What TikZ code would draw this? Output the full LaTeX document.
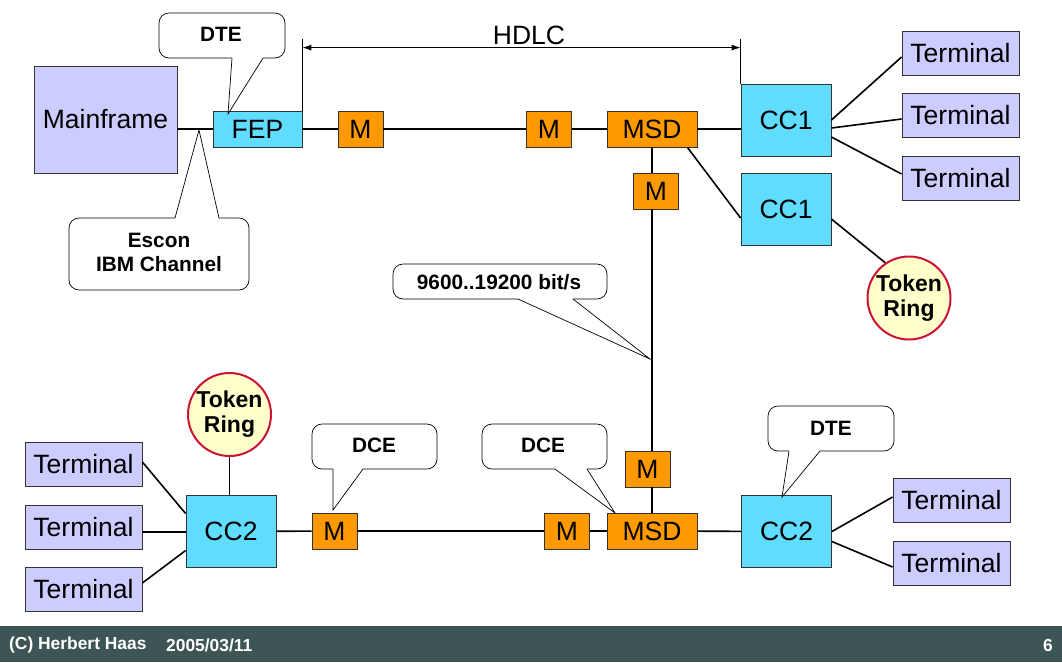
\documentclass[tikz,border=0pt]{standalone}
\usepackage{fontspec}
\setmainfont{Liberation Sans}
\usetikzlibrary{calc,arrows.meta}

\definecolor{lav}{HTML}{CCCCFF}
\definecolor{ccblue}{HTML}{60DCFF}
\definecolor{modemorange}{HTML}{FF9900}
\definecolor{ringfill}{HTML}{FFFFCC}
\definecolor{ringred}{HTML}{CC1236}
\definecolor{footerbar}{HTML}{3D5555}
\definecolor{edge}{HTML}{333333}

% speech bubble: rounded box #1-#2, wedge base #3-#4, tip #5, #6 = shift into the box
\newcommand\bubble[6]{%
  \draw[bubbleline, fill=white, rounded corners=10pt] #1 rectangle #2;
  \fill[white] ($#3+(0,#6)$) -- #3 -- #5 -- #4 -- ($#4+(0,#6)$) -- cycle;
  \draw[bubbleline] #3 -- #5 -- #4;
}

\begin{document}
\begin{tikzpicture}[x=1pt, y=-1pt,
  box/.style={draw=edge, line width=0.8pt, inner sep=0pt,
              font=\fontsize{26.5}{30}\selectfont},
  term/.style={box, fill=lav, minimum width=117pt, minimum height=44pt},
  cc/.style={box, fill=ccblue, minimum width=90pt, minimum height=72pt},
  modem/.style={box, fill=modemorange, minimum width=45pt, minimum height=36pt},
  msd/.style={box, fill=modemorange, minimum width=90pt, minimum height=36pt},
  ring/.style={circle, draw=ringred, line width=2pt, fill=ringfill,
               minimum size=83pt, inner sep=0pt, align=center,
               font=\bfseries\fontsize{23}{25}\selectfont},
  link/.style={line width=1.6pt},
  bubbleline/.style={line width=0.7pt},
  bubbletext/.style={font=\bfseries\fontsize{20.8}{24}\selectfont, align=center, inner sep=0pt},
  thinline/.style={line width=0.9pt}
]
\useasboundingbox (0,0) rectangle (1062,662);
\fill[white] (0,0) rectangle (1062,662);

% ---------- upper network ----------
\node[box, fill=lav, minimum width=143pt, minimum height=107pt] (mf) at (105.5,119.5) {Mainframe};
\node[box, fill=ccblue, minimum width=89pt, minimum height=36pt] (fep) at (257.5,129) {FEP};
\node[modem] (m1) at (360.5,129) {M};
\node[modem] (m2) at (549,129) {M};
\node[msd] (msd1) at (652,129) {MSD};
\node[cc] (cc1a) at (786,120) {CC1};
\node[cc] (cc1b) at (786,209.5) {CC1};
\node[modem] (mv) at (656,191) {M};
\node[term] (t1) at (960.5,53) {Terminal};
\node[term] (t2) at (960.5,115.5) {Terminal};
\node[term] (t3) at (960.5,178) {Terminal};
\node[ring] (ring1) at (909,298) {Token\\Ring};

\draw[link] (mf.east |- fep.west) -- (fep.west);
\draw[link] (fep) -- (m1);
\draw[link] (m1) -- (m2);
\draw[link] (m2) -- (msd1);
\draw[link] (msd1.east) -- (msd1.east -| cc1a.west);
\draw[link] (cc1a.east) -- ([yshift=-4pt]t1.west);
\draw[link] ([yshift=-8pt]cc1a.east) -- ([yshift=-3.5pt]t2.west);
\draw[link] ([yshift=-17pt]cc1a.east) -- ([yshift=4pt]t3.west);
\draw[link] ([xshift=-10pt]msd1.south east) -- ([yshift=-8.5pt]cc1b.west);
\draw[link] ([yshift=-9.5pt]cc1b.east) -- (ring1.124);

% ---------- lower network ----------
\node[cc] (cc2l) at (231,531.5) {CC2};
\node[modem] (mb1) at (334.5,531) {M};
\node[modem] (mb2) at (567,531) {M};
\node[msd] (msd2) at (652,531) {MSD};
\node[modem] (mb3) at (647.5,469) {M};
\node[cc] (cc2r) at (786.5,531.5) {CC2};
\node[term] (tl1) at (83.5,464.5) {Terminal};
\node[term] (tl2) at (83.5,527) {Terminal};
\node[term] (tl3) at (83.5,589.5) {Terminal};
\node[term] (tr1) at (951.5,500) {Terminal};
\node[term] (tr2) at (951.5,563) {Terminal};
\node[ring] (ring2) at (229.5,414.5) {Token\\Ring};

\draw[link] (cc2l) -- (mb1);
\draw[link] (mb1) -- (mb2);
\draw[link] (mb2) -- (msd2);
\draw[link] (msd2) -- (cc2r);
\draw[link] (ring2.south) -- (ring2.south |- cc2l.north);
\draw[link] ([yshift=2.5pt]tl1.east) -- ([yshift=18pt]cc2l.west);
\draw[link] ([yshift=-0.5pt]cc2l.west) -- ([yshift=-0.5pt]cc2l.west -| tl2.east);
\draw[link] ([yshift=6.5pt]tl3.east) -- ([yshift=-19pt]cc2l.west);
\draw[link] (cc2r.east) -- ([yshift=3pt]tr1.west);
\draw[link] ([yshift=-10pt]cc2r.east) -- ([yshift=-4pt]tr2.west);

% vertical trunk between the two MSDs
\draw[link] (msd1.south) -- (mv.north -| msd1.south);
\draw[link] (mv.south -| msd1.south) -- (mb3.north -| msd1.south);
\draw[link] (mb3.south -| msd1.south) -- (msd2.north);

% ---------- HDLC span ----------
\path (fep.north east) ++(0,-72) coordinate (hL);
\path (cc1a.north west) ++(0,-45) coordinate (hR);
\draw[thinline] (fep.north east) -- (hL);
\draw[thinline] (cc1a.north west) -- (hR);
\draw[thinline, {Latex[length=9pt,width=6pt]}-{Latex[length=9pt,width=6pt]}]
  ([yshift=-9pt]hL) -- ([yshift=-9pt]hR);
\node[font=\fontsize{26.5}{30}\selectfont, inner sep=0pt] (hdlc) at (529,35) {HDLC};

% ---------- speech bubbles ----------
\bubble{(159,13)}{(285,58)}{(232,58)}{(263,58)}{(228,114)}{-2}
\node[bubbletext] (dteA) at (221,34) {DTE};

\bubble{(69,218)}{(249,290)}{(175,218)}{(219,218)}{(199,130)}{2}
\node[bubbletext] (escon) at (159,252) {Escon\\IBM Channel};

\bubble{(393,264)}{(607,299)}{(518,299)}{(573,299)}{(650,359)}{-2}
\node[bubbletext] (rate) at (499,282) {9600..19200 bit/s};

\bubble{(312,424)}{(437,469)}{(333,469)}{(363,469)}{(333,510)}{-2}
\node[bubbletext] (dceA) at (374,445) {DCE};

\bubble{(482,424)}{(607,469)}{(555,469)}{(587,469)}{(615,513)}{-2}
\node[bubbletext] (dceB) at (543,445) {DCE};

\bubble{(768,406)}{(894,451)}{(789,451)}{(820,451)}{(782,497)}{-2}
\node[bubbletext] (dteB) at (831,428) {DTE};

% ---------- footer ----------
\fill[footerbar] (0,626) rectangle (1062,662);
\node[anchor=west, text=white, inner sep=0pt, font=\bfseries\fontsize{17.4}{19}\selectfont]
  (author) at (9,645) {(C) Herbert Haas};
\node[anchor=west, text=white, inner sep=0pt, font=\bfseries\fontsize{17.4}{19}\selectfont]
  (date) at (166,645) {2005/03/11};
\node[text=white, inner sep=0pt, font=\bfseries\fontsize{17.4}{19}\selectfont]
  (page) at (1048,645) {6};
\end{tikzpicture}
\end{document}
